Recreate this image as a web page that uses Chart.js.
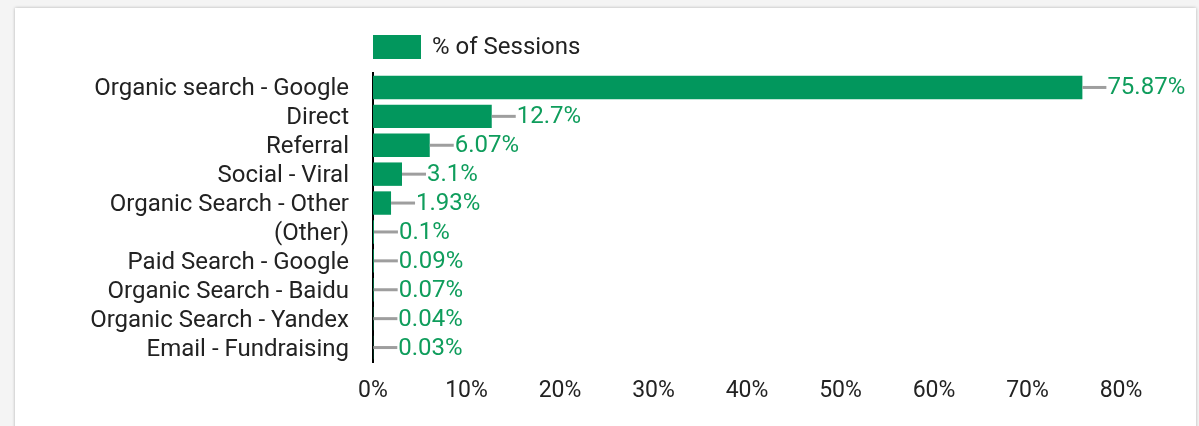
<!DOCTYPE html>
<html>
<head>
<meta charset="utf-8">
<script src="https://cdn.jsdelivr.net/npm/chart.js@4"></script>
<style>
  html, body { margin: 0; padding: 0; background: #f4f4f4; width: 1199px; height: 426px; overflow: hidden; }
  #card { position: absolute; left: 15px; top: 8px; width: 1181px; height: 480px; background: #fff; box-shadow: 0 0 3px rgba(0,0,0,0.28); }
  #wrap { position: absolute; left: 0; top: 0; width: 1199px; height: 426px; }
</style>
</head>
<body>
<div id="card"></div>
<div id="wrap"><canvas id="c" width="1199" height="426"></canvas></div>
<script>
const categories = [
  "Organic search - Google",
  "Direct",
  "Referral",
  "Social - Viral",
  "Organic Search - Other",
  "(Other)",
  "Paid Search - Google",
  "Organic Search - Baidu",
  "Organic Search - Yandex",
  "Email - Fundraising"
];
const sessionsPct = [75.87, 12.7, 6.07, 3.1, 1.93, 0.1, 0.09, 0.07, 0.04, 0.03];
const seriesName = "% of Sessions";
const xTickMax = 80;
const xTickStep = 10;

const GREEN = "#02975d";
const TEXT_GREEN = "#0f9d5c";
const FONT = "Roboto";

const valueLabels = {
  id: "valueLabels",
  afterDatasetsDraw(chart) {
    const ctx = chart.ctx;
    const meta = chart.getDatasetMeta(0);
    ctx.save();
    meta.data.forEach((el, i) => {
      const x = el.x, y = el.y;
      ctx.strokeStyle = "#9e9e9e";
      ctx.lineWidth = 3;
      ctx.beginPath();
      ctx.moveTo(x, y);
      ctx.lineTo(x + 24, y);
      ctx.stroke();
      ctx.fillStyle = TEXT_GREEN;
      ctx.font = "24px " + FONT;
      ctx.textAlign = "left";
      ctx.textBaseline = "middle";
      ctx.fillText(sessionsPct[i] + "%", x + 25, y + 1);
    });
    ctx.restore();
  }
};

const customLegend = {
  id: "customLegend",
  afterDraw(chart) {
    const ctx = chart.ctx;
    const left = chart.chartArea.left;
    ctx.save();
    ctx.fillStyle = GREEN;
    ctx.fillRect(left, 35, 48, 24);
    ctx.fillStyle = "#222";
    ctx.font = "24px " + FONT;
    ctx.textAlign = "left";
    ctx.textBaseline = "middle";
    ctx.fillText(seriesName, left + 59, 48);
    ctx.restore();
  }
};

new Chart(document.getElementById("c"), {
  type: "bar",
  data: {
    labels: categories,
    datasets: [{
      label: seriesName,
      data: sessionsPct,
      backgroundColor: GREEN,
      borderWidth: 0,
      barPercentage: 0.81,
      categoryPercentage: 1.0
    }]
  },
  options: {
    indexAxis: "y",
    responsive: false,
    animation: false,
    events: [],
    layout: { padding: { top: 73, right: 78, left: 0, bottom: 0 } },
    plugins: {
      legend: { display: false },
      tooltip: { enabled: false }
    },
    scales: {
      x: {
        min: 0,
        max: xTickMax,
        grid: { display: false, drawTicks: false },
        border: { display: false },
        ticks: {
          stepSize: xTickStep,
          color: "#222",
          font: { family: FONT, size: 23 },
          padding: 15,
          callback: v => v + "%"
        },
        afterFit(s) { s.height = 64; }
      },
      y: {
        grid: { display: false, drawTicks: false },
        border: { display: true, color: "#000", width: 2 },
        ticks: {
          color: "#222",
          font: { family: FONT, size: 24 },
          padding: 24,
          labelOffset: 2,
          autoSkip: false
        },
        afterFit(s) { s.width = 373; }
      }
    }
  },
  plugins: [valueLabels, customLegend]
});
</script>
</body>
</html>
